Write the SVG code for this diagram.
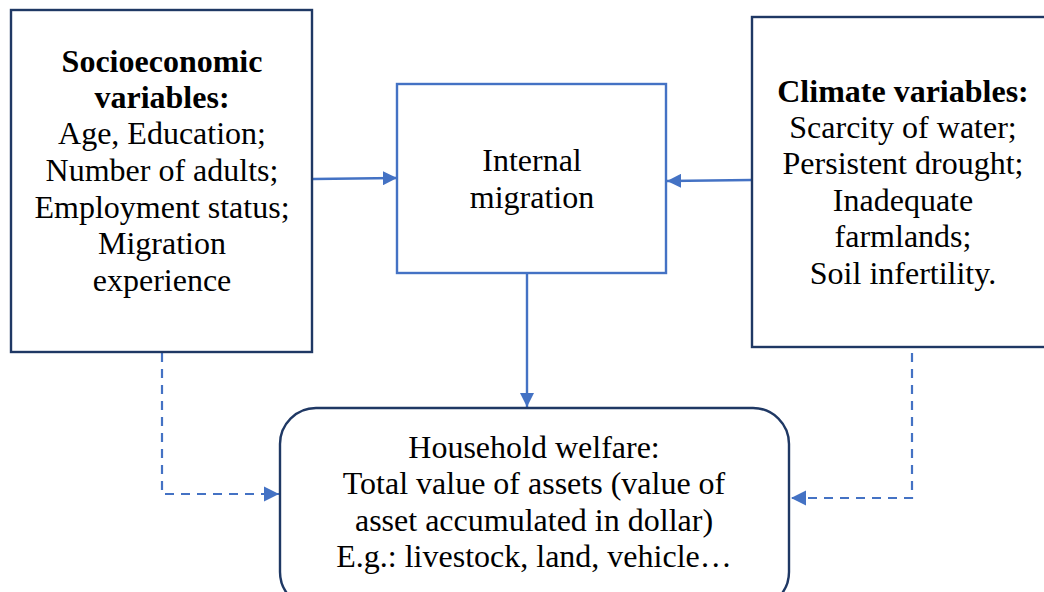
<svg xmlns="http://www.w3.org/2000/svg" width="1044" height="592" viewBox="0 0 1044 592">
<style>
text{font-family:'Liberation Serif','Times New Roman','DejaVu Serif',serif;font-size:32px;fill:#000;text-anchor:middle}
.b{font-weight:bold}
.nb{fill:#fff;stroke:#1F3864;stroke-width:2.4}
.ib{fill:#fff;stroke:#4472C4;stroke-width:2.4}
.c{fill:none;stroke:#4472C4;stroke-width:2.4}
.d{fill:none;stroke:#4472C4;stroke-width:2.2;stroke-dasharray:9 7}
</style>
<defs>
<marker id="ah" viewBox="0 0 10 10" refX="10" refY="5" markerWidth="6" markerHeight="6" markerUnits="strokeWidth" orient="auto">
<path d="M0,0 L10,5 L0,10 Z" fill="#4472C4"/>
</marker>
<marker id="ahd" viewBox="0 0 10 10" refX="10" refY="5" markerWidth="7" markerHeight="7" markerUnits="strokeWidth" orient="auto">
<path d="M0,0 L10,5 L0,10 Z" fill="#4472C4"/>
</marker>
</defs>
<g id="connectors">
<line class="c" x1="313" y1="179" x2="397" y2="178" marker-end="url(#ah)"/>
<line class="c" x1="752" y1="180" x2="667" y2="181" marker-end="url(#ah)"/>
<line class="c" x1="527" y1="274" x2="527" y2="407" marker-end="url(#ah)"/>
<polyline class="d" points="162,353 162,494 279,494" marker-end="url(#ahd)"/>
<polyline class="d" points="912,353 912,498 791,498" marker-end="url(#ahd)"/>
</g>
<g id="socioeconomic">
<rect class="nb" x="11" y="10" width="301" height="342"/>
<text x="162" y="72" class="b">Socioeconomic</text>
<text x="162" y="108" class="b">variables:</text>
<text x="162" y="144">Age, Education;</text>
<text x="162" y="181">Number of adults;</text>
<text x="162" y="218">Employment status;</text>
<text x="162" y="254">Migration</text>
<text x="162" y="291">experience</text>
</g>
<g id="climate">
<rect class="nb" x="752" y="17" width="300" height="330"/>
<text x="903" y="102" class="b">Climate variables:</text>
<text x="903" y="138">Scarcity of water;</text>
<text x="903" y="174">Persistent drought;</text>
<text x="903" y="211">Inadequate</text>
<text x="903" y="247">farmlands;</text>
<text x="903" y="284">Soil infertility.</text>
</g>
<g id="migration">
<rect class="ib" x="397" y="84" width="269" height="189"/>
<text x="532" y="171">Internal</text>
<text x="532" y="208">migration</text>
</g>
<g id="welfare">
<rect class="nb" x="280" y="408" width="509" height="200" rx="36" ry="36"/>
<text x="534" y="458">Household welfare:</text>
<text x="534" y="494">Total value of assets (value of</text>
<text x="534" y="531">asset accumulated in dollar)</text>
<text x="534" y="567">E.g.: livestock, land, vehicle…</text>
</g>
</svg>
